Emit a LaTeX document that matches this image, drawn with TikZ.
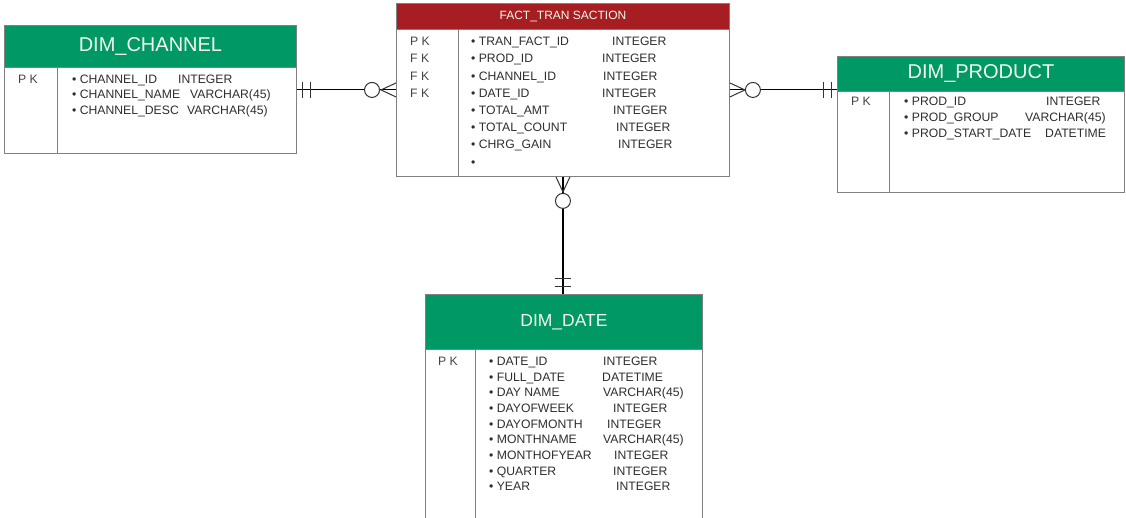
\documentclass[tikz,border=0pt]{standalone}
\usepackage{fontspec}
\setmainfont{Liberation Sans}
\usetikzlibrary{positioning}
\definecolor{hdrgreen}{HTML}{009865}
\definecolor{hdrred}{HTML}{A61E22}
\definecolor{txtgray}{HTML}{2E2E2E}
\definecolor{keygray}{HTML}{444444}
\definecolor{boxgray}{HTML}{808080}
\definecolor{hdrtext}{HTML}{F4F8EC}

\tikzset{
  tablebox/.style={draw=boxgray, line width=0.9pt, fill=white, inner sep=0pt, anchor=north west},
  tablehdr/.style={fill=#1, draw=boxgray, line width=0.9pt, inner sep=0pt, anchor=north west,
    text=hdrtext},
  field/.style={anchor=west, inner sep=0pt, text=txtgray, text height=8.6pt, text depth=0pt,
    font=\fontsize{12.2}{14}\selectfont},
  keyfield/.style={field, text=keygray},
  conn/.style={line width=1.1pt, black},
  endmark/.style={line width=1pt, black!80}
}

\begin{document}
\begin{tikzpicture}[x=1pt, y=-1pt]
  \useasboundingbox (0,0) rectangle (1126,518);

  % tables
  \node[tablebox, minimum width=292, minimum height=128] (chan) at (4,25) {};
  \node[tablehdr=hdrgreen, minimum width=292, minimum height=42, font=\fontsize{20}{22}\selectfont]
    (chanhdr) at (chan.north west) {DIM\_CHANNEL};
  \draw[boxgray, line width=0.9pt] ([xshift=53pt]chanhdr.south west) -- ([xshift=53pt]chan.south west);

  \node[tablebox, minimum width=333, minimum height=173] (fact) at (396,3) {};
  \node[tablehdr=hdrred, minimum width=333, minimum height=26, font=\fontsize{12}{14}\selectfont]
    (facthdr) at (fact.north west) {FACT\_TRAN SACTION};
  \draw[boxgray, line width=0.9pt] ([xshift=62pt]facthdr.south west) -- ([xshift=62pt]fact.south west);

  \node[tablebox, minimum width=287, minimum height=136] (prod) at (837,56) {};
  \node[tablehdr=hdrgreen, minimum width=287, minimum height=35, font=\fontsize{20}{22}\selectfont]
    (prodhdr) at (prod.north west) {DIM\_PRODUCT};
  \draw[boxgray, line width=0.9pt] ([xshift=52pt]prodhdr.south west) -- ([xshift=52pt]prod.south west);

  \node[tablebox, minimum width=277, minimum height=232] (date) at (425,294) {};
  \node[tablehdr=hdrgreen, minimum width=277, minimum height=55, font=\fontsize{17.5}{20}\selectfont]
    (datehdr) at (date.north west) {DIM\_DATE};
  \draw[boxgray, line width=0.9pt] ([xshift=50pt]datehdr.south west) -- ([xshift=50pt]date.south west);

  % keys
  \node[keyfield] (chanpk) at (18,79) {P K};
  \foreach \k [count=\i] in {P K, F K, F K, F K}
    \node[keyfield] (factk\i) at (410,{41.5+17.2*(\i-1)}) {\k};
  \node[keyfield] (prodpk) at (851,101.5) {P K};
  \node[keyfield] (datepk) at (438,361) {P K};

  % columns
  \foreach \c/\t/\tx [count=\i] in {CHANNEL\_ID/INTEGER/178, CHANNEL\_NAME/VARCHAR(45)/190,
      CHANNEL\_DESC/VARCHAR(45)/187}{
    \node[field] (chanf\i) at (72,{79+15.5*(\i-1)}) {\textbullet\ \c};
    \node[field] (chant\i) at (\tx,{79+15.5*(\i-1)}) {\t};
  }
  \foreach \c/\t/\tx [count=\i] in {TRAN\_FACT\_ID/INTEGER/612, PROD\_ID/INTEGER/602,
      CHANNEL\_ID/INTEGER/603, DATE\_ID/INTEGER/602, TOTAL\_AMT/INTEGER/613,
      TOTAL\_COUNT/INTEGER/616, CHRG\_GAIN/INTEGER/618}{
    \node[field] (factf\i) at (471,{41.5+17.2*(\i-1)}) {\textbullet\ \c};
    \node[field] (factt\i) at (\tx,{41.5+17.2*(\i-1)}) {\t};
  }
  \node[field] (factf8) at (471,162) {\textbullet};
  \foreach \c/\t/\tx [count=\i] in {PROD\_ID/INTEGER/1046, PROD\_GROUP/VARCHAR(45)/1025,
      PROD\_START\_DATE/DATETIME/1045}{
    \node[field] (prodf\i) at (904,{101.5+15.8*(\i-1)}) {\textbullet\ \c};
    \node[field] (prodt\i) at (\tx,{101.5+15.8*(\i-1)}) {\t};
  }
  \foreach \c/\t/\tx [count=\i] in {DATE\_ID/INTEGER/603, FULL\_DATE/DATETIME/602,
      DAY NAME/VARCHAR(45)/603, DAYOFWEEK/INTEGER/613, DAYOFMONTH/INTEGER/607,
      MONTHNAME/VARCHAR(45)/603, MONTHOFYEAR/INTEGER/614, QUARTER/INTEGER/613, YEAR/INTEGER/616}{
    \node[field] (datef\i) at (489,{361+15.7*(\i-1)}) {\textbullet\ \c};
    \node[field] (datet\i) at (\tx,{361+15.7*(\i-1)}) {\t};
  }

  % relationships
  \draw[conn] (chan.east |- fact.west) coordinate (a1) -- (fact.west) coordinate (a2);
  \draw[endmark] (a1) ++(6,-8) -- ++(0,16) (a1) ++(14,-8) -- ++(0,16);
  \draw[endmark, fill=white] (a2) ++(-24,0) circle (7.5);
  \draw[endmark] (a2) ++(0,-7) -- ++(-15,7) -- ++(15,7);

  \draw[conn] (fact.east) coordinate (b1) -- (fact.east -| prod.west) coordinate (b2);
  \draw[endmark] (b1) ++(0,-7) -- ++(15,7) -- ++(-15,7);
  \draw[endmark, fill=white] (b1) ++(23,0) circle (7.5);
  \draw[endmark] (b2) ++(-6,-8) -- ++(0,16) (b2) ++(-14,-8) -- ++(0,16);

  \draw[conn] (fact.south) coordinate (c1) -- (fact.south |- date.north) coordinate (c2);
  \draw[endmark] (c1) ++(-7,0) -- ++(7,15) -- ++(7,-15);
  \draw[endmark, fill=white] (c1) ++(0,24) circle (7.5);
  \draw[endmark] (c2) ++(-8,-7) -- ++(16,0) (c2) ++(-8,-15) -- ++(16,0);
\end{tikzpicture}
\end{document}
